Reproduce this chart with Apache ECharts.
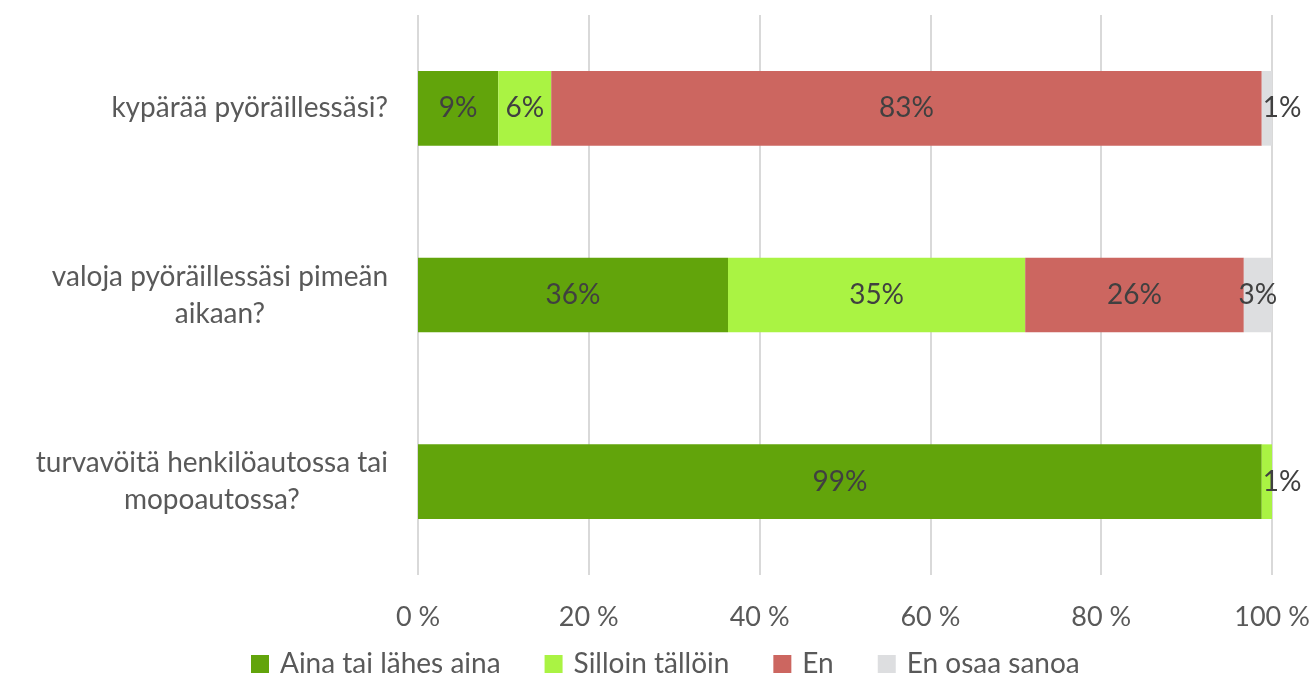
<!DOCTYPE html>
<html>
<head>
<meta charset="utf-8">
<script src="https://cdn.jsdelivr.net/npm/echarts@6/dist/echarts.min.js"></script>
<style>
  html, body { margin: 0; padding: 0; background: #fff; }
  #chart { width: 1316px; height: 679px; }
</style>
</head>
<body>
<div id="chart"></div>
<script>
// categories, top to bottom
const categories = [
  'kypärää pyöräillessäsi?',
  'valoja pyöräillessäsi pimeän\naikaan?',
  'turvavöitä henkilöautossa tai\nmopoautossa?'
]
const seriesNames = ['Aina tai lähes aina', 'Silloin tällöin', 'En', 'En osaa sanoa']
const ainaValues = [9.4, 36.3, 98.8]
const silloinValues = [6.2, 34.8, 1.2]
const enValues = [83.2, 25.6, 0]
const eosValues = [1.2, 3.3, 0]
const xTicks = [0, 20, 40, 60, 80, 100]

const colors = ['#62a40b', '#aaf343', '#cc6660', '#dddee0']
const font = 'Lato, "Noto Sans", sans-serif'

const chart = echarts.init(document.getElementById('chart'))

const makeSeries = (name, values, color) => ({
  name: name,
  type: 'bar',
  stack: 'total',
  barWidth: '40%',
  itemStyle: { color: color },
  data: values.map(v => {
    const item = { value: v }
    if (v === 0) item.label = { show: false }
    else if (v < 2) item.label = { position: 'insideLeft', distance: 1 }
    return item
  }),
  label: {
    show: true,
    position: 'inside',
    color: '#404040',
    fontSize: 28,
    fontFamily: font,
    formatter: p => Math.round(p.value) + '%'
  }
})

chart.setOption({
  backgroundColor: '#fff',
  animation: false,
  grid: { left: 418, right: 44, top: 15, bottom: 104, containLabel: false },
  xAxis: {
    type: 'value',
    min: xTicks[0],
    max: xTicks[xTicks.length - 1],
    interval: 20,
    axisLine: { show: false },
    axisTick: { show: false },
    splitLine: { lineStyle: { color: '#d9d9d9', width: 2 } },
    axisLabel: {
      margin: 29,
      color: '#595959',
      fontSize: 27,
      fontFamily: font,
      formatter: '{value} %'
    }
  },
  yAxis: {
    type: 'category',
    inverse: true,
    data: categories,
    axisLine: { show: false },
    axisTick: { show: false },
    axisLabel: {
      margin: 30,
      color: '#595959',
      fontSize: 28,
      lineHeight: 37,
      fontFamily: font,
      formatter: v => v.split('\n').map(l => '{c|' + l + '}').join('\n'),
      rich: {
        c: { align: 'center', color: '#595959', fontSize: 28, lineHeight: 37, fontFamily: font }
      }
    }
  },
  legend: {
    top: 645,
    left: 246,
    itemWidth: 18,
    itemHeight: 18,
    itemGap: 44,
    icon: 'rect',
    textStyle: { color: '#595959', fontSize: 28, fontFamily: font, padding: [0, 0, 0, 6] },
    data: seriesNames
  },
  series: [
    makeSeries(seriesNames[0], ainaValues, colors[0]),
    makeSeries(seriesNames[1], silloinValues, colors[1]),
    makeSeries(seriesNames[2], enValues, colors[2]),
    makeSeries(seriesNames[3], eosValues, colors[3])
  ]
})
</script>
</body>
</html>
